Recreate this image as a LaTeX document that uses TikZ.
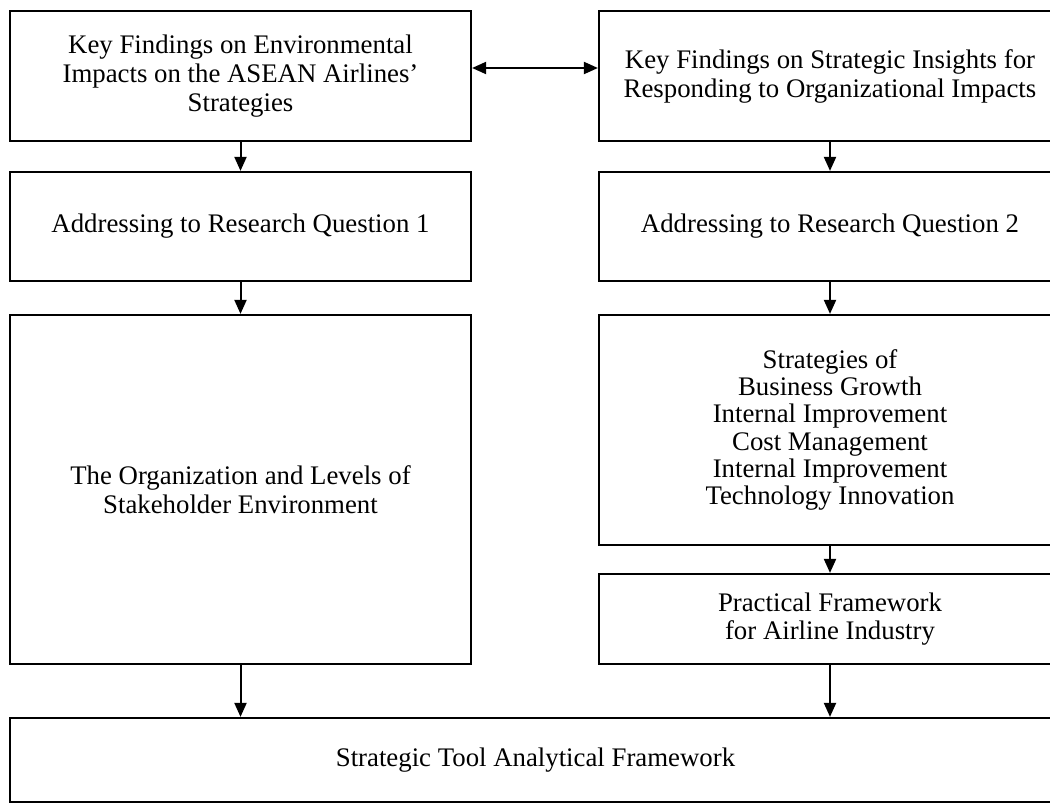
\documentclass[tikz,border=0pt]{standalone}
\usepackage{fontspec}
\setmainfont{Liberation Serif}
\usetikzlibrary{arrows.meta}

\begin{document}
\begin{tikzpicture}[
  x=0.5pt,
  y=-0.5pt,
  box/.style={draw,line width=1.1pt,align=center,inner sep=0pt,font=\fontsize{13.4}{14.5}\selectfont},
  tight/.style={font=\fontsize{13.4}{13.6}\selectfont},
  flow/.style={line width=1pt,-{Triangle[length=7pt,width=6pt]}},
  link/.style={line width=1pt,{Triangle[length=7pt,width=6pt]}-{Triangle[length=7pt,width=6pt]}}
]
  \clip (0,0) rectangle (1050,803);

  % Left column: environmental impacts.
  \node[box,minimum width=230.5pt,minimum height=65pt] (findenv) at (240.5,76)
    {Key Findings on Environmental\\Impacts on the ASEAN Airlines'\\Strategies};
  \node[box,minimum width=230.5pt,minimum height=54.5pt] (rqone) at (240.5,226.5)
    {Addressing to Research Question 1};
  \node[box,minimum width=230.5pt,minimum height=174.5pt] (stake) at (240.5,489.5)
    {The Organization and Levels of\\Stakeholder Environment};

  % Right column: strategic insights, cut by the page edge.
  \node[box,minimum width=231pt,minimum height=65pt] (findstrat) at (830,76)
    {Key Findings on Strategic Insights for\\Responding to Organizational Impacts};
  \node[box,minimum width=231pt,minimum height=54.5pt] (rqtwo) at (830,226.5)
    {Addressing to Research Question 2};
  \node[box,tight,minimum width=231pt,minimum height=115pt] (strat) at (830,430)
    {Strategies of\\Business Growth\\Internal Improvement\\Cost Management\\Internal Improvement\\Technology Innovation};
  \node[box,tight,minimum width=231pt,minimum height=45pt] (practical) at (830,619)
    {Practical Framework\\for Airline Industry};

  % Joint framework along the bottom.
  \node[box,minimum width=525.5pt,minimum height=42pt] (tool) at (535.5,760)
    {Strategic Tool Analytical Framework};

  \draw[link] ([yshift=4pt]findenv.east) -- ([yshift=4pt]findstrat.west);
  \draw[flow] (findenv) -- (rqone);
  \draw[flow] (rqone) -- (stake);
  \draw[flow] (findstrat) -- (rqtwo);
  \draw[flow] (rqtwo) -- (strat);
  \draw[flow] (strat) -- (practical);
  \draw[flow] (stake.south) -- (stake.south |- tool.north);
  \draw[flow] (practical.south) -- (practical.south |- tool.north);
\end{tikzpicture}
\end{document}
